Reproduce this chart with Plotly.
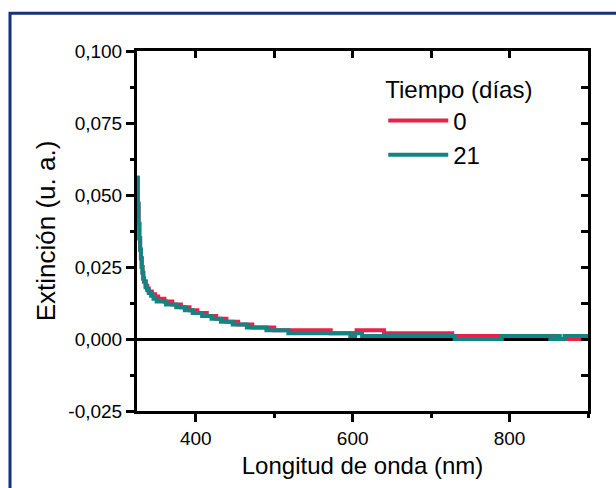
import plotly.graph_objects as go

# Wavelength (nm) breakpoints and extinction values (u. a.)
wl_0 = [325, 326, 327, 328, 329, 330, 331, 332, 333, 334, 336, 338, 340, 344, 348,
        352, 360, 370, 381, 392, 402, 414, 426, 439, 454, 472, 500, 572, 605, 640,
        727, 855, 890, 900]
ext_0 = [0.056, 0.047, 0.040, 0.035, 0.031, 0.028, 0.025, 0.023, 0.021, 0.020, 0.0185,
         0.0175, 0.0165, 0.0155, 0.0148, 0.014, 0.013, 0.012, 0.011, 0.010, 0.009,
         0.008, 0.007, 0.006, 0.005, 0.004, 0.003, 0.002, 0.003, 0.002, 0.001, 0.000,
         0.001, 0.001]

wl_21 = [325, 326, 327, 328, 329, 330, 331, 332, 333, 334, 336, 338, 340, 343, 346,
         350, 362, 375, 386, 396, 408, 420, 432, 447, 465, 490, 518, 597, 603, 612,
         730, 790, 852, 858, 864, 870, 900]
ext_21 = [0.056, 0.047, 0.040, 0.035, 0.031, 0.028, 0.025, 0.023, 0.021, 0.020, 0.018,
          0.017, 0.016, 0.015, 0.014, 0.013, 0.012, 0.011, 0.010, 0.009, 0.008, 0.007,
          0.006, 0.005, 0.004, 0.003, 0.002, 0.001, 0.002, 0.001, 0.000, 0.001, 0.000,
          0.001, 0.000, 0.001, 0.001]

series_names = ["0", "21"]
colors = ["#E8224A", "#118583"]
x_ticks = [400, 600, 800]
y_ticks = [-0.025, 0.0, 0.025, 0.05, 0.075, 0.1]
y_tick_text = ["-0,025", "0,000", "0,025", "0,050", "0,075", "0,100"]

FONT = "Liberation Sans, Arial, sans-serif"

fig = go.Figure()
for wl, ext, name, col in [(wl_0, ext_0, series_names[0], colors[0]),
                           (wl_21, ext_21, series_names[1], colors[1])]:
    fig.add_trace(go.Scatter(x=wl, y=ext, mode="lines", name=name,
                             line=dict(color=col, width=4, shape="hv")))

# invisible trace for mirrored (inward-tick) top/right axes
fig.add_trace(go.Scatter(x=[325, 900], y=[-0.025, 0.1], xaxis="x2", yaxis="y2",
                         mode="markers", marker=dict(opacity=0), showlegend=False,
                         hoverinfo="skip"))

axis_common = dict(showgrid=False, linecolor="black", linewidth=3,
                   tickcolor="black", tickwidth=2.5)

fig.update_layout(
    width=616, height=488,
    margin=dict(l=137, r=28, t=51, b=74),
    paper_bgcolor="white", plot_bgcolor="white",
    font=dict(family=FONT, color="black"),
    xaxis=dict(range=[325, 900], tickvals=x_ticks, ticks="outside", ticklen=8,
               minor=dict(dtick=100, tick0=300, ticks="outside", ticklen=4,
                          tickcolor="black", tickwidth=2.5),
               tickfont=dict(size=19, family=FONT),
               title=dict(text="Longitud de onda (nm)", font=dict(size=24, family=FONT),
                          standoff=10),
               zeroline=False, **axis_common),
    yaxis=dict(range=[-0.025, 0.1], tickvals=y_ticks, ticktext=y_tick_text,
               ticks="outside", ticklen=8,
               minor=dict(dtick=0.0125, tick0=0, ticks="outside", ticklen=4,
                          tickcolor="black", tickwidth=2.5),
               tickfont=dict(size=19, family=FONT),
               title=dict(text="Extinción (u. a.)", font=dict(size=26, family=FONT),
                          standoff=6),
               zeroline=True, zerolinecolor="black", zerolinewidth=2.5,
               **axis_common),
    xaxis2=dict(overlaying="x", side="top", range=[325, 900], tick0=300, dtick=100,
                ticks="inside", ticklen=7, showticklabels=False, zeroline=False,
                **axis_common),
    yaxis2=dict(overlaying="y", side="right", range=[-0.025, 0.1], tick0=0,
                dtick=0.0125, ticks="inside", ticklen=7, showticklabels=False,
                zeroline=False, **axis_common),
    legend=dict(x=0.546, y=0.955, xanchor="left", yanchor="top",
                bgcolor="rgba(0,0,0,0)", font=dict(size=24, family=FONT),
                title=dict(text="Tiempo (días)", font=dict(size=24, family=FONT)),
                itemwidth=60, tracegroupgap=0),
    showlegend=True,
    shapes=[dict(type="rect", xref="paper", yref="paper",
                 x0=-0.2816, x1=1.08, y0=-0.25, y1=1.1047,
                 line=dict(color="#12337A", width=3), layer="below")],
)

fig.write_html("out.html")
